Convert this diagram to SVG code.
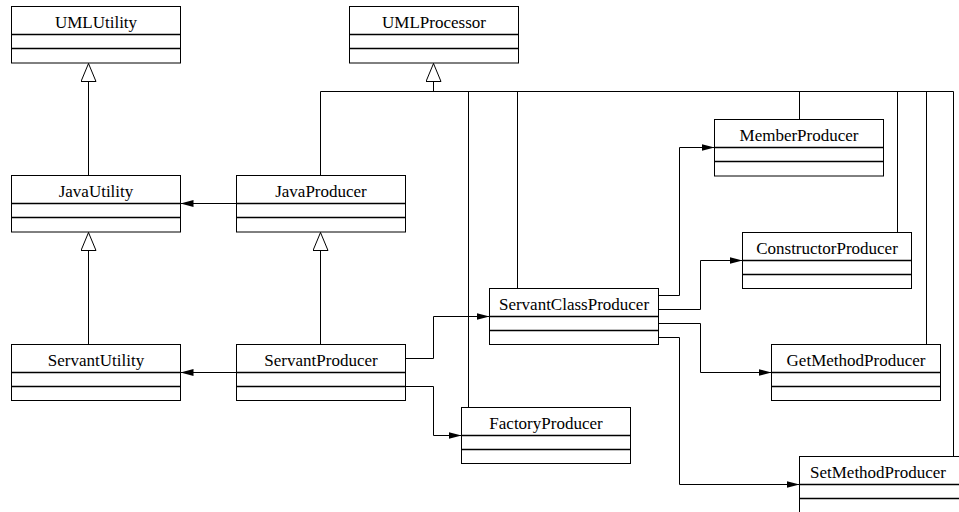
<svg xmlns="http://www.w3.org/2000/svg" width="959" height="512" viewBox="0 0 959 512">
<style>
.box{fill:#fff;stroke:#000;stroke-width:1}
.sep{stroke:#000;stroke-width:1.3}
.t{font-size:17px;fill:#000;text-anchor:middle}
.c{fill:none;stroke:#000;stroke-width:1}
</style>
<defs>
<marker id="arr" markerUnits="userSpaceOnUse" markerWidth="14" markerHeight="8" refX="13" refY="3.5" orient="auto">
<path d="M0,0 L13,3.5 L0,7 z" fill="#000"/>
</marker>
<marker id="gen" markerUnits="userSpaceOnUse" markerWidth="20" markerHeight="17" refX="18.5" refY="8" orient="auto">
<path d="M0.5,0.5 L18.5,8 L0.5,15.5 z" fill="#fff" stroke="#000" stroke-width="1"/>
</marker>
</defs>
<g id="connectors">
<path class="c" d="M88.5,175.5 V63.5" marker-end="url(#gen)"/>
<path class="c" d="M88.5,344.5 V232.5" marker-end="url(#gen)"/>
<path class="c" d="M320.5,344.5 V232.5" marker-end="url(#gen)"/>
<path class="c" d="M433.5,91.5 V63.5" marker-end="url(#gen)"/>
<path class="c" d="M320.5,175.5 V91.5 H953.5 V456.5"/>
<path class="c" d="M468.5,91.5 V407.5"/>
<path class="c" d="M517.5,91.5 V288.5"/>
<path class="c" d="M799.5,91.5 V119.5"/>
<path class="c" d="M897.5,91.5 V232.5"/>
<path class="c" d="M926.5,91.5 V344.5"/>
<path class="c" d="M236.5,203.5 H180.5" marker-end="url(#arr)"/>
<path class="c" d="M236.5,372.5 H180.5" marker-end="url(#arr)"/>
<path class="c" d="M405.5,358.5 H433.5 V316.5 H489.5" marker-end="url(#arr)"/>
<path class="c" d="M405.5,386.5 H433.5 V435.5 H461.5" marker-end="url(#arr)"/>
<path class="c" d="M658.5,295.5 H679.5 V147.5 H714.5" marker-end="url(#arr)"/>
<path class="c" d="M658.5,309.5 H700.5 V260.5 H742.5" marker-end="url(#arr)"/>
<path class="c" d="M658.5,323.5 H700.5 V372.5 H771.5" marker-end="url(#arr)"/>
<path class="c" d="M658.5,337.5 H679.5 V484.5 H799.5" marker-end="url(#arr)"/>
</g>
<g font-family="'Liberation Serif', 'Times New Roman', 'DejaVu Serif', serif">
<g id="UMLUtility"><rect class="box" x="11.5" y="6.5" width="169" height="56.5"/><path class="sep" d="M11.5,34.5 H180.5 M11.5,48.5 H180.5"/><text class="t" x="96" y="28">UMLUtility</text></g>
<g id="UMLProcessor"><rect class="box" x="349.5" y="6.5" width="169" height="56.5"/><path class="sep" d="M349.5,34.5 H518.5 M349.5,48.5 H518.5"/><text class="t" x="434" y="28">UMLProcessor</text></g>
<g id="JavaUtility"><rect class="box" x="11.5" y="175.5" width="169" height="56.5"/><path class="sep" d="M11.5,203.5 H180.5 M11.5,217.5 H180.5"/><text class="t" x="96" y="197">JavaUtility</text></g>
<g id="JavaProducer"><rect class="box" x="236.5" y="175.5" width="169" height="56.5"/><path class="sep" d="M236.5,203.5 H405.5 M236.5,217.5 H405.5"/><text class="t" x="321" y="197">JavaProducer</text></g>
<g id="ServantUtility"><rect class="box" x="11.5" y="344.5" width="169" height="56"/><path class="sep" d="M11.5,372.5 H180.5 M11.5,386.5 H180.5"/><text class="t" x="96" y="366">ServantUtility</text></g>
<g id="ServantProducer"><rect class="box" x="236.5" y="344.5" width="169" height="56"/><path class="sep" d="M236.5,372.5 H405.5 M236.5,386.5 H405.5"/><text class="t" x="321" y="366">ServantProducer</text></g>
<g id="MemberProducer"><rect class="box" x="714.5" y="119.5" width="169" height="56.5"/><path class="sep" d="M714.5,147.5 H883.5 M714.5,161.5 H883.5"/><text class="t" x="799" y="141">MemberProducer</text></g>
<g id="ConstructorProducer"><rect class="box" x="742.5" y="232.5" width="169" height="56"/><path class="sep" d="M742.5,260.5 H911.5 M742.5,274.5 H911.5"/><text class="t" x="827" y="254">ConstructorProducer</text></g>
<g id="ServantClassProducer"><rect class="box" x="489.5" y="288.5" width="169" height="56"/><path class="sep" d="M489.5,316.5 H658.5 M489.5,330.5 H658.5"/><text class="t" x="574" y="310">ServantClassProducer</text></g>
<g id="GetMethodProducer"><rect class="box" x="771.5" y="344.5" width="169" height="56"/><path class="sep" d="M771.5,372.5 H940.5 M771.5,386.5 H940.5"/><text class="t" x="856" y="366">GetMethodProducer</text></g>
<g id="FactoryProducer"><rect class="box" x="461.5" y="407.5" width="169" height="56"/><path class="sep" d="M461.5,435.5 H630.5 M461.5,449.5 H630.5"/><text class="t" x="546" y="429">FactoryProducer</text></g>
<g id="SetMethodProducer"><rect class="box" x="799.5" y="456.5" width="169" height="56"/><path class="sep" d="M799.5,484.5 H968.5 M799.5,498.5 H968.5"/><text class="t" x="878" y="478">SetMethodProducer</text></g>
</g>
</svg>
